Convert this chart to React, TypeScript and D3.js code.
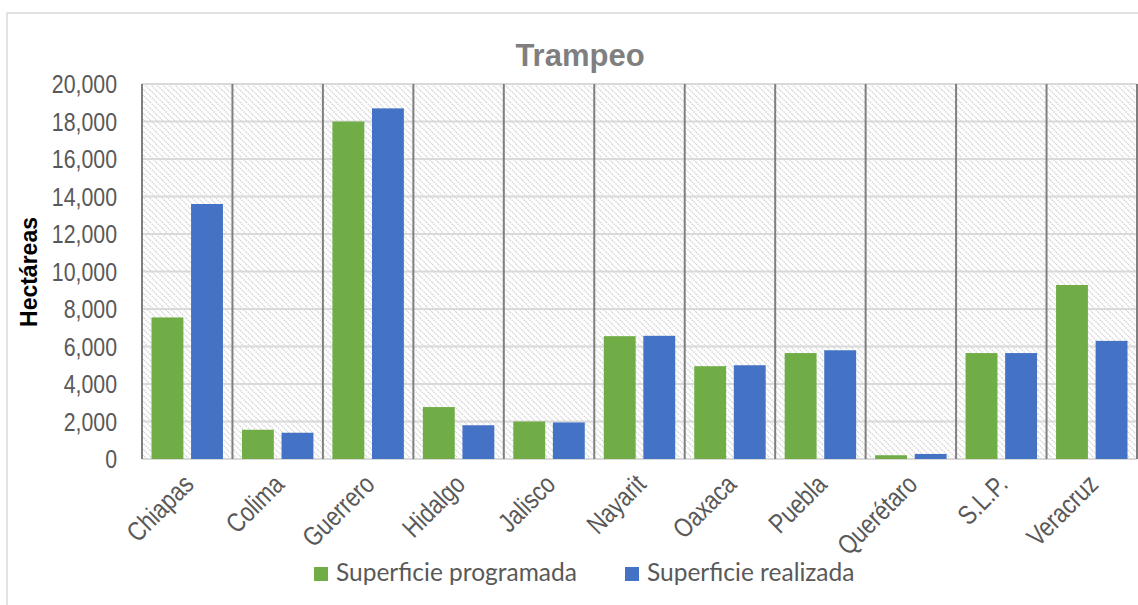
import { useEffect, useRef } from "react";
import * as d3 from "d3";

const W = 1138,
  H = 605;
const plot = { left: 142, right: 1137, top: 84, bottom: 459 };

const estados = [
  "Chiapas",
  "Colima",
  "Guerrero",
  "Hidalgo",
  "Jalisco",
  "Nayarit",
  "Oaxaca",
  "Puebla",
  "Querétaro",
  "S.L.P.",
  "Veracruz",
];
const programada = [7550, 1560, 18000, 2770, 2000, 6550, 4950, 5650, 200, 5650, 9280];
const realizada = [13600, 1400, 18700, 1800, 1950, 6570, 5000, 5800, 270, 5650, 6300];
const series = ["Superficie programada", "Superficie realizada"];
const colors = ["#70AD47", "#4472C4"];
const yTicks = [0, 2000, 4000, 6000, 8000, 10000, 12000, 14000, 16000, 18000, 20000];

const sans = "'Liberation Sans', Arial, sans-serif";
// Arial Narrow is not available: squeeze Liberation Sans horizontally instead
const narrowScale = 0.82;

const App = () => {
  const ref = useRef<SVGSVGElement | null>(null);

  useEffect(() => {
    const svg = d3.select(ref.current);
    svg.selectAll("*").remove();

    const x = d3
      .scaleBand<string>()
      .domain(estados)
      .range([plot.left, plot.right])
      .padding(0);
    const xSub = d3
      .scaleBand<string>()
      .domain(series)
      .range([0, x.step()])
      .paddingInner(0.194)
      .paddingOuter(0.24);
    const y = d3.scaleLinear().domain([0, 20000]).range([plot.bottom, plot.top]);

    // hatch pattern for plot background
    const pat = svg
      .append("defs")
      .append("pattern")
      .attr("id", "hatch")
      .attr("patternUnits", "userSpaceOnUse")
      .attr("width", 6)
      .attr("height", 6);
    pat.append("rect").attr("width", 6).attr("height", 6).attr("fill", "#fff");
    pat
      .append("path")
      .attr("d", "M0,0 L6,6 M-1,5 L1,7 M5,-1 L7,1")
      .attr("stroke", "#d4d4d4")
      .attr("stroke-width", 1.4)
      .attr("stroke-dasharray", "1.5 1");

    // outer chart border
    svg
      .append("rect")
      .attr("x", 7)
      .attr("y", 13)
      .attr("width", 1200)
      .attr("height", 700)
      .attr("fill", "#fff")
      .attr("stroke", "#d9d9d9")
      .attr("stroke-width", 1.5);

    svg
      .append("rect")
      .attr("x", plot.left)
      .attr("y", plot.top)
      .attr("width", plot.right - plot.left)
      .attr("height", plot.bottom - plot.top)
      .attr("fill", "url(#hatch)");

    // horizontal gridlines
    svg
      .append("g")
      .selectAll("line")
      .data(yTicks)
      .join("line")
      .attr("x1", plot.left)
      .attr("x2", plot.right)
      .attr("y1", (d) => y(d))
      .attr("y2", (d) => y(d))
      .attr("stroke", "#d9d9d9")
      .attr("stroke-width", 2);

    // category separators
    const bounds = estados.map((e) => x(e)!).concat([plot.right]);
    svg
      .append("g")
      .selectAll("line")
      .data(bounds)
      .join("line")
      .attr("x1", (d) => d)
      .attr("x2", (d) => d)
      .attr("y1", plot.top)
      .attr("y2", plot.bottom)
      .attr("stroke", "#7f7f7f")
      .attr("stroke-width", 2);

    // bars
    const vals = [programada, realizada];
    series.forEach((s, si) => {
      svg
        .append("g")
        .selectAll("rect")
        .data(estados)
        .join("rect")
        .attr("x", (d) => x(d)! + xSub(s)!)
        .attr("width", xSub.bandwidth())
        .attr("y", (_d, i) => y(vals[si][i]))
        .attr("height", (_d, i) => plot.bottom - y(vals[si][i]))
        .attr("fill", colors[si]);
    });

    // y axis labels
    svg
      .append("g")
      .selectAll("text")
      .data(yTicks)
      .join("text")
      .attr("transform", (d) => `translate(117,${y(d)}) scale(${narrowScale},1)`)
      .attr("dy", "0.36em")
      .attr("text-anchor", "end")
      .attr("font-family", sans)
      .attr("font-size", 26)
      .attr("fill", "#595959")
      .text((d) => d3.format(",")(d));

    // x axis labels
    svg
      .append("g")
      .selectAll("text")
      .data(estados)
      .join("text")
      .attr(
        "transform",
        (d) =>
          `translate(${x(d)! + x.bandwidth() / 2 + 8},${plot.bottom + 27}) rotate(-45) scale(${narrowScale},1)`
      )
      .attr("text-anchor", "end")
      .attr("font-family", sans)
      .attr("font-size", 27)
      .attr("fill", "#595959")
      .text((d) => d);

    // title
    svg
      .append("text")
      .attr("x", 580)
      .attr("y", 66)
      .attr("text-anchor", "middle")
      .attr("font-family", sans)
      .attr("font-weight", "bold")
      .attr("font-size", 31)
      .attr("fill", "#7f7f7f")
      .text("Trampeo");

    // y axis title
    svg
      .append("text")
      .attr("transform", `translate(37,272) rotate(-90)`)
      .attr("text-anchor", "middle")
      .attr("font-family", sans)
      .attr("font-weight", "bold")
      .attr("font-size", 23)
      .attr("fill", "#000")
      .text("Hectáreas");

    // legend
    const legendX = [314, 625];
    const leg = svg
      .append("g")
      .selectAll("g")
      .data(series)
      .join("g")
      .attr("transform", (_d, i) => `translate(${legendX[i]},567)`);
    leg
      .append("rect")
      .attr("width", 14)
      .attr("height", 14)
      .attr("fill", (_d, i) => colors[i]);
    leg
      .append("text")
      .attr("x", 22)
      .attr("y", 14)
      .attr("font-family", "Lato, sans-serif")
      .attr("font-size", 24.5)
      .attr("fill", "#595959")
      .text((d) => d);
  }, []);

  return (
    <svg
      ref={ref}
      width={W}
      height={H}
      style={{ position: "absolute", left: 0, top: 0, background: "#fff" }}
    />
  );
};

export default App;
